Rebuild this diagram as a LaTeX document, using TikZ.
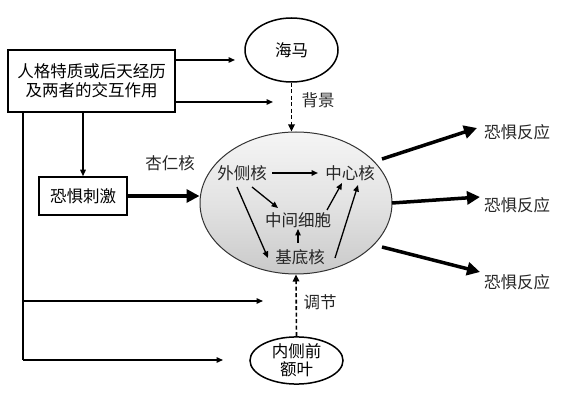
\documentclass[tikz,border=0pt]{standalone}
\usepackage{fontspec}
\setmainfont{Noto Sans CJK SC}
\usetikzlibrary{arrows.meta,shapes.geometric,calc}
\begin{document}
\begin{tikzpicture}[x=1pt,y=-1pt,
  font=\fontsize{16.5}{20}\selectfont,
  txt/.style={inner sep=2pt, text=black!85},
  boxnode/.style={draw, line width=1.5pt, align=center, inner sep=0pt},
  ellnode/.style={ellipse, draw, line width=1.5pt, align=center, inner sep=0pt},
  thinarrow/.style={line width=1.4pt, -{Triangle[length=6.5pt,width=5.5pt]}},
  thickarrow/.style={line width=3.5pt, -{Triangle[length=13pt,width=13pt]}},
  dasharrow/.style={line width=1.6pt, dash pattern=on 4pt off 2.5pt, -{Triangle[length=7pt,width=6.5pt]}},
  innerarrow/.style={line width=1.3pt, -{Triangle[length=6.5pt,width=5.5pt]}}
]
\useasboundingbox (0,0) rectangle (573,403);

% nodes
\node[boxnode, minimum width=167pt, minimum height=62pt] (pers) at (91.5,81)
  {人格特质或后天经历\\[-1pt]及两者的交互作用};
\node[ellnode, minimum width=93pt, minimum height=64pt] (hip) at (291.5,50) {海马};
\node[boxnode, minimum width=88pt, minimum height=38pt] (fear) at (83,196) {恐惧刺激};
\node[ellipse, draw=black!80, line width=1pt, minimum width=192pt, minimum height=142pt,
      top color=gray!8, bottom color=gray!42, middle color=gray!22] (amy) at (296,203) {};
\node[ellnode, minimum width=93pt, minimum height=46pt] (mpfc) at (296.5,360.5) {内侧前\\[-2pt]额叶};

\node[txt] (lat) at (242,173) {外侧核};
\node[txt] (cen) at (350,173) {中心核};
\node[txt] (itc) at (298,220) {中间细胞};
\node[txt] (bas) at (300,257) {基底核};

\node[txt] (amylab) at (170,163) {杏仁核};
\node[txt] (bg) at (318,100) {背景};
\node[txt] (reg) at (320,302) {调节};

\node[txt] (r1) at (517,132) {恐惧反应};
\node[txt] (r2) at (517,205) {恐惧反应};
\node[txt] (r3) at (517,282) {恐惧反应};

% free ends
\coordinate (e1) at (235,60);
\coordinate (e2) at (273,102);
\coordinate (e3) at (263,301);
\coordinate (e4) at (223,360);
\coordinate (lft) at (23,112);

% connectors from the personality box
\draw[thinarrow] ($(pers.east)+(0,-21)$) -- (e1);
\draw[thinarrow] ($(pers.east)+(0,21)$) -- (e2);
\draw[thinarrow] (fear.north |- pers.south) -- (fear.north);
\draw[line width=1.4pt] (lft) -- (lft |- e4);
\draw[thinarrow] (lft |- e3) -- (e3);
\draw[thinarrow] (lft |- e4) -- (e4);

% stimulus to amygdala
\draw[thickarrow] (fear.east) -- (fear.east -| amy.west);

% dashed modulators
\draw[dasharrow] (hip.south) -- (hip.south |- amy.north);
\draw[dasharrow] (mpfc.north) -- (amy.south);

% internal amygdala connections
\draw[innerarrow, line width=1.8pt] ($(lat)+(30,0)$) -- ($(cen)+(-32,0)$);
\draw[innerarrow] ($(lat)+(10,14)$) -- ($(itc)+(-20,-12)$);
\draw[innerarrow] ($(lat)+(-5,14)$) -- ($(bas)+(-32,1)$);
\draw[innerarrow] ($(itc)+(29,-10)$) -- ($(cen)+(-8,10)$);
\draw[innerarrow] ($(bas)+(-2,-14)$) -- ($(itc)+(0,9)$);
\draw[innerarrow] ($(bas)+(35,1)$) -- ($(cen)+(8,12)$);

% fear responses
\draw[thickarrow] ($(amy)+(86,-44)$) -- ($(r1)+(-40,-4)$);
\draw[thickarrow] ($(amy)+(96,0)$) -- ($(r2)+(-37,-8)$);
\draw[thickarrow] ($(amy)+(86,44)$) -- ($(r3)+(-37,-10)$);
\end{tikzpicture}
\end{document}
